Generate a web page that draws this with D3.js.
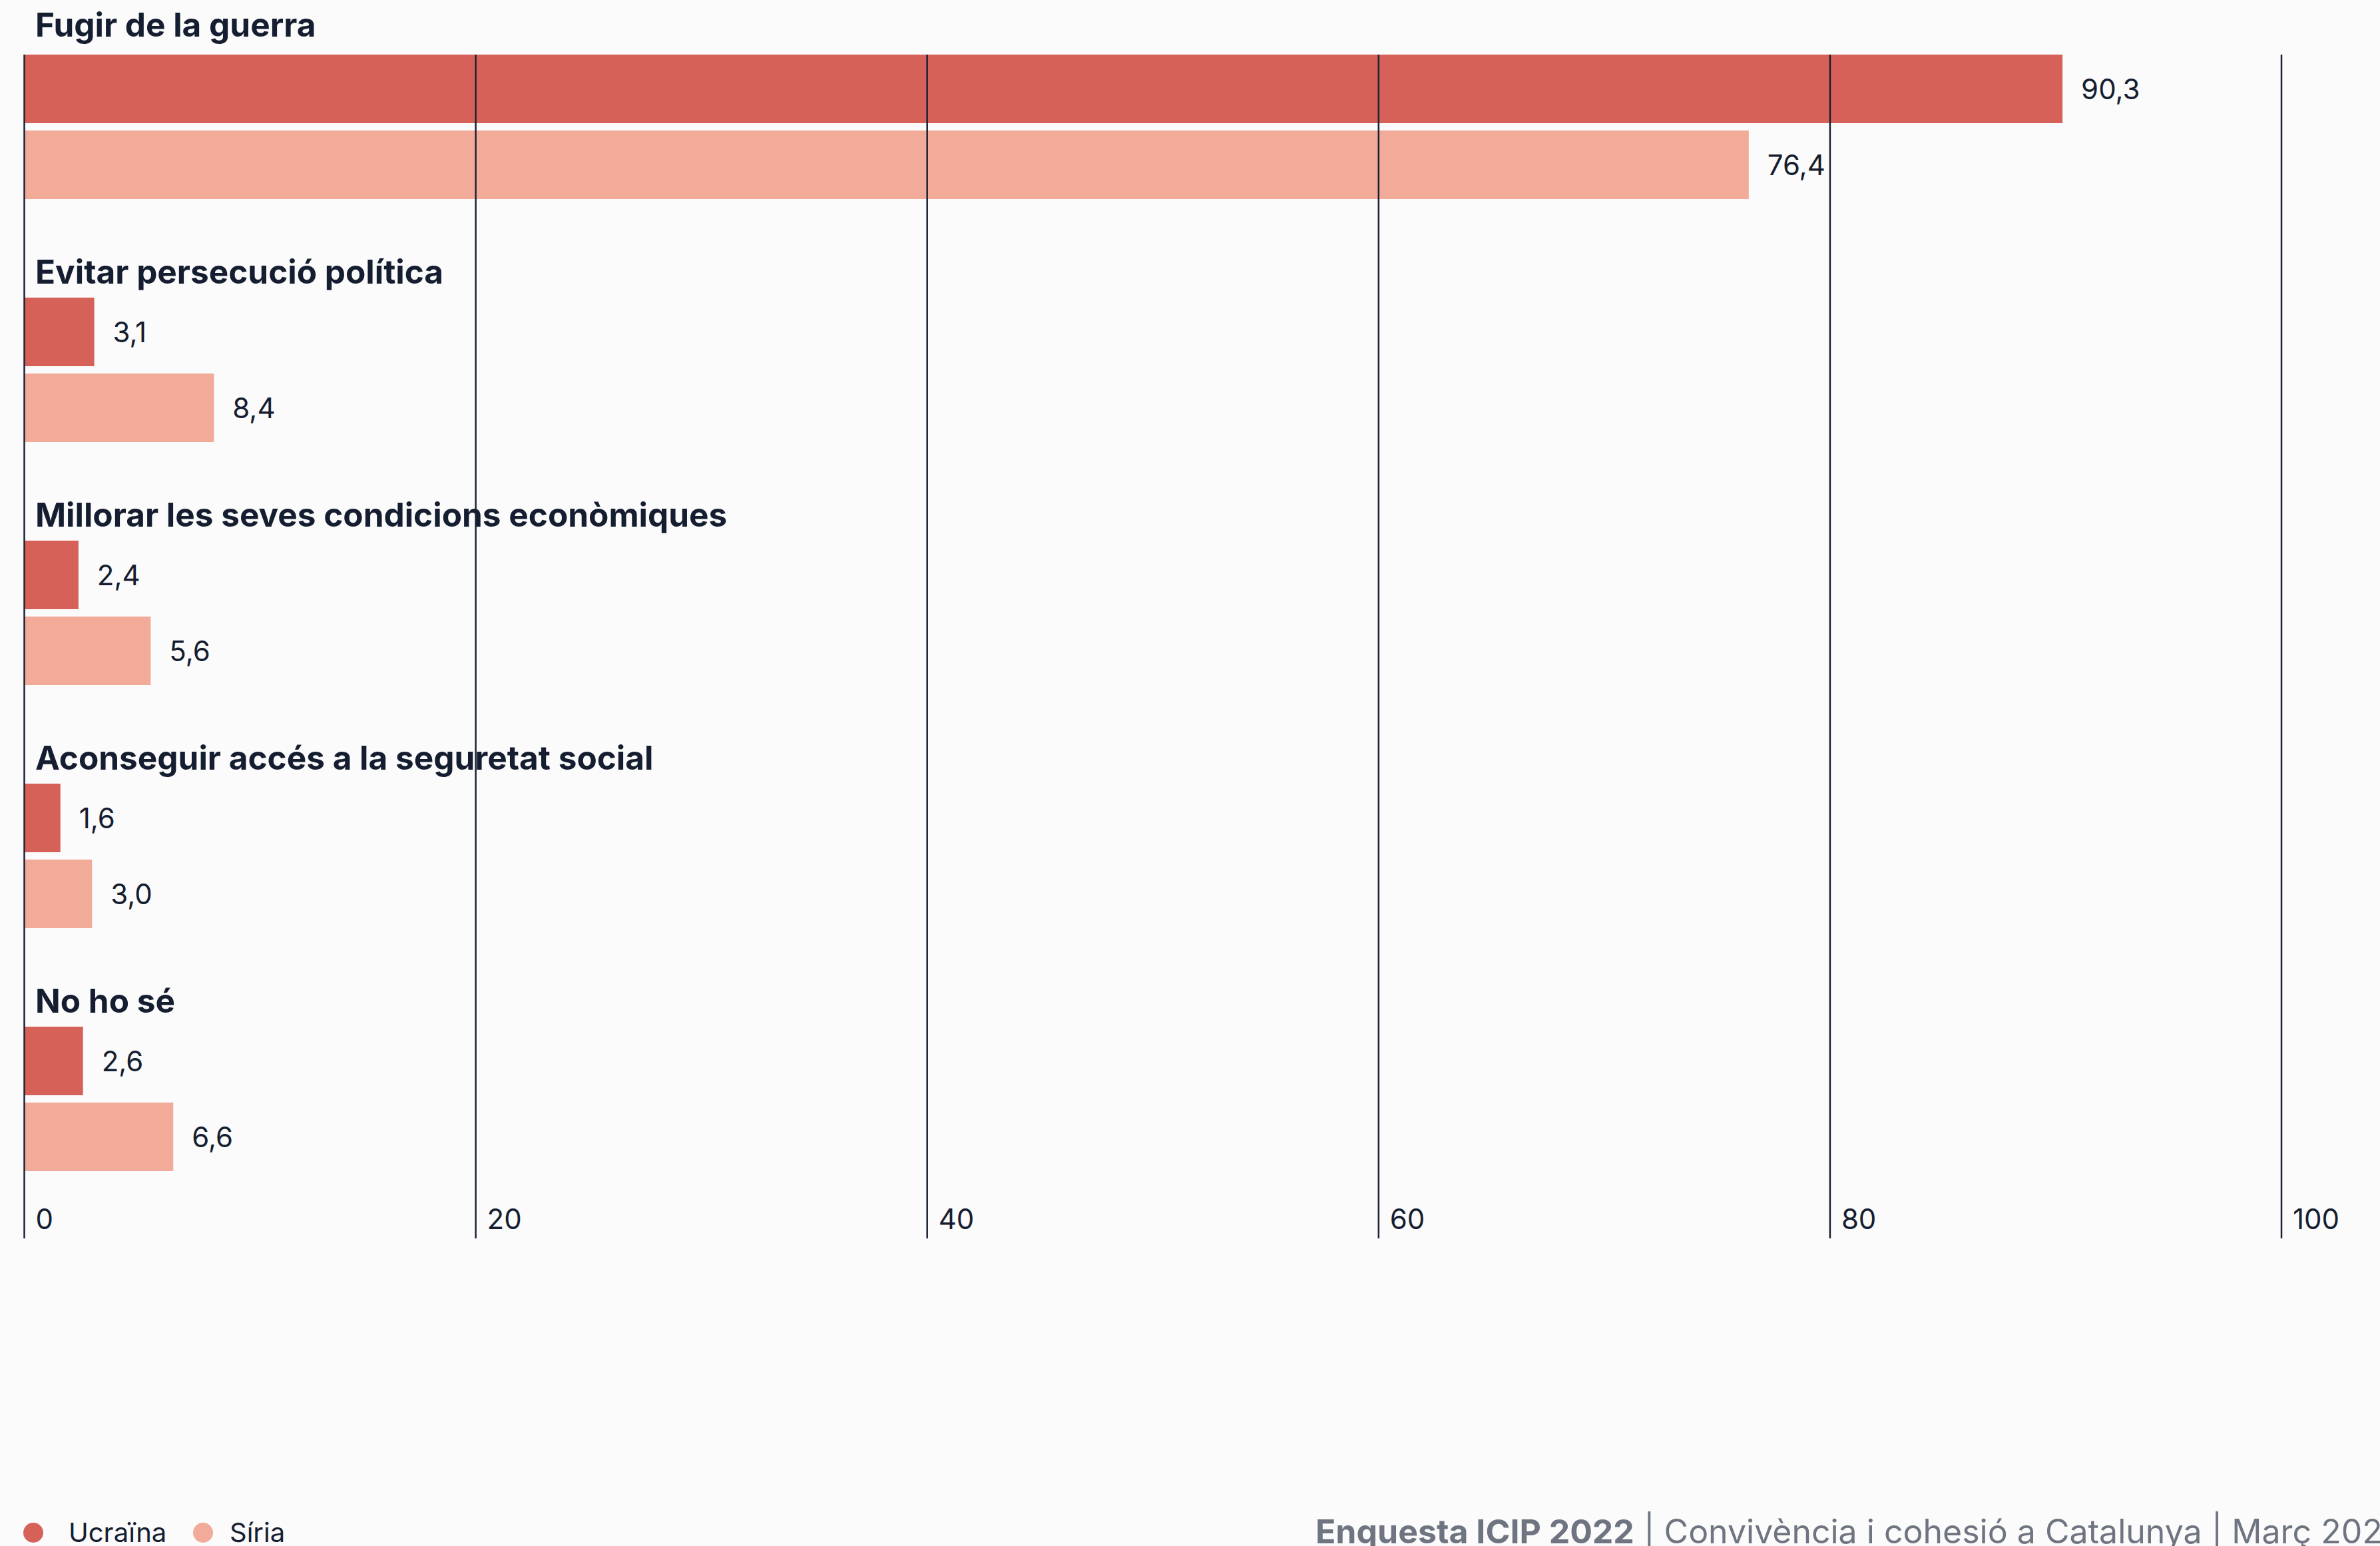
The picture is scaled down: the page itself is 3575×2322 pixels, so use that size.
<!DOCTYPE html>
<html>
<head>
<meta charset="utf-8">
<script src="https://cdn.jsdelivr.net/npm/d3@7"></script>
<style>
  html, body { margin: 0; padding: 0; background: #fbfbfb; }
  svg { display: block; font-family: Inter, "Noto Sans", sans-serif; }
</style>
</head>
<body>
<svg id="chart" width="3575" height="2322"></svg>
<script>
const categories = [
  "Fugir de la guerra",
  "Evitar persecució política",
  "Millorar les seves condicions econòmiques",
  "Aconseguir accés a la seguretat social",
  "No ho sé"
];
const seriesNames = ["Ucraïna", "Síria"];
const ucrainaValues = [90.3, 3.1, 2.4, 1.6, 2.6];
const siriaValues = [76.4, 8.4, 5.6, 3.0, 6.6];
const tickValues = [0, 20, 40, 60, 80, 100];
const footerBold = "Enquesta ICIP 2022";
const footerRest = " | Convivència i cohesió a Catalunya | Març 2023";

const colors = ["#d56159", "#f2ab99"];
const textColor = "#151e30";

const svg = d3.select("#chart");
svg.append("rect").attr("width", 3575).attr("height", 2322).attr("fill", "#fbfbfb");

const x = d3.scaleLinear().domain([0, 100]).range([36.5, 3427]);
const yGroup = d3.scaleBand().domain(categories).range([82, 82 + 365 * 5]).padding(0);
const ySeries = d3.scaleBand().domain(seriesNames).range([0, 217]).paddingInner(11 / 114).paddingOuter(0);

const locale = d3.formatLocale({decimal: ",", thousands: ".", grouping: [3], currency: ["", "€"]});
const fmt = locale.format(".1f");

// grid lines
const ticks = svg.append("g");
ticks.selectAll("line").data(tickValues).join("line")
  .attr("x1", d => x(d)).attr("x2", d => x(d))
  .attr("y1", 82).attr("y2", 1860)
  .attr("stroke", "#1a2233").attr("stroke-width", 2.5);

// groups
const data = categories.map((c, i) => ({cat: c, values: [ucrainaValues[i], siriaValues[i]]}));
const groups = svg.append("g").selectAll("g").data(data).join("g")
  .attr("transform", d => `translate(0,${yGroup(d.cat)})`);

groups.append("text")
  .attr("x", 53).attr("y", (d, i) => i === 0 ? -27 : -21)
  .attr("font-size", 49.5).attr("font-weight", 700).attr("fill", textColor)
  .text(d => d.cat);

groups.selectAll("rect").data(d => d.values.map((v, j) => ({name: seriesNames[j], v, j}))).join("rect")
  .attr("x", x(0)).attr("y", d => ySeries(d.name))
  .attr("width", d => x(d.v) - x(0)).attr("height", ySeries.bandwidth())
  .attr("fill", d => colors[d.j]);

groups.selectAll("text.val").data(d => d.values.map((v, j) => ({name: seriesNames[j], v, j}))).join("text")
  .attr("class", "val")
  .attr("x", d => x(d.v) + 28).attr("y", d => ySeries(d.name) + ySeries.bandwidth() / 2)
  .attr("dy", "0.38em")
  .attr("font-size", 42).attr("fill", textColor)
  .text(d => fmt(d.v));

// tick labels drawn on top
ticks.selectAll("text").data(tickValues).join("text")
  .attr("x", d => x(d) + 17).attr("y", 1846)
  .attr("font-size", 42).attr("fill", textColor)
  .text(d => d);
svg.node().appendChild(ticks.node());

// legend
const legendCircleX = [50, 305];
const legendTextX = [103, 345];
const legend = svg.append("g").selectAll("g").data(seriesNames).join("g");
legend.append("circle").attr("cx", (d, i) => legendCircleX[i]).attr("cy", 2302).attr("r", 15)
  .attr("fill", (d, i) => colors[i]);
legend.append("text").attr("x", (d, i) => legendTextX[i]).attr("y", 2316)
  .attr("font-size", 40).attr("fill", textColor).text(d => d);

// footer
const footer = svg.append("text").attr("x", 1976).attr("y", 2318)
  .attr("font-size", 50).attr("fill", "#6e7480");
footer.append("tspan").attr("font-weight", 700).text(footerBold);
footer.append("tspan").attr("font-weight", 400).text(footerRest);
</script>
</body>
</html>
